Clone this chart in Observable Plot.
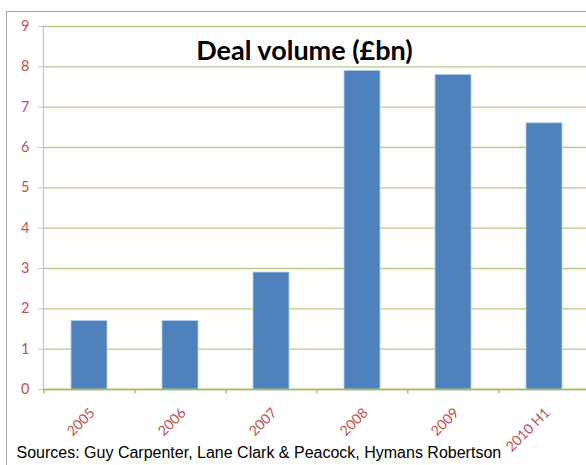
<!DOCTYPE html>
<html>
<head>
<meta charset="utf-8">
<script src="https://cdn.jsdelivr.net/npm/d3@7"></script>
<script src="https://cdn.jsdelivr.net/npm/@observablehq/plot@0.6"></script>
<style>
  html, body { margin: 0; padding: 0; background: #fff; overflow: hidden; }
  #wrap { position: relative; width: 586px; height: 465px; }
  #border { position: absolute; left: 6px; top: 11px; width: 640px; height: 520px; border: 1px solid #a6a6a6; box-sizing: border-box; pointer-events: none; }
  #chart { position: absolute; left: 0; top: 0; }
</style>
</head>
<body>
<div id="wrap"><div id="border"></div><div id="chart"></div></div>
<script>
const years = ["2005", "2006", "2007", "2008", "2009", "2010 H1"];
const volumes = [1.7, 1.7, 2.9, 7.9, 7.8, 6.6];
const yTicks = [0, 1, 2, 3, 4, 5, 6, 7, 8, 9];
const title = "Deal volume (£bn)";
const source = "Sources: Guy Carpenter, Lane Clark & Peacock, Hymans Robertson";

const data = years.map((y, i) => ({year: y, value: volumes[i]}));
const xRange = [43, 591];
const step = (xRange[1] - xRange[0]) / years.length;

const chart = Plot.plot({
  width: 586,
  height: 465,
  marginLeft: 43,
  marginRight: 0,
  marginTop: 26,
  marginBottom: 76,
  style: {fontFamily: "Lato, 'Open Sans', sans-serif", background: "transparent", overflow: "visible"},
  x: {domain: years, range: xRange, paddingInner: 0.6, paddingOuter: 0.3, label: null},
  y: {domain: [0, 9], label: null},
  marks: [
    Plot.ruleY(yTicks, {y: d => d, stroke: "#b5cd85", strokeWidth: 1.3}),
    Plot.barY(data, {x: "year", y: "value", fill: "#4f81bd", stroke: "#b9cde5", strokeWidth: 0.8}),
    Plot.ruleY([0], {stroke: "#9bbb59", strokeWidth: 1.3}),
    Plot.frame({anchor: "left", stroke: "#b9c9da", strokeWidth: 1.3}),
    Plot.ruleX(years, {x: d => d, y1: 0, y2: -0.11, dx: -step / 2, stroke: "#9bbb59", strokeWidth: 1.3}),
    Plot.axisY({ticks: yTicks, tickSize: 5, tickPadding: 9, stroke: "#b9c9da", fill: "#c0504d", fontSize: 14.5, tickFormat: d => String(d)}),
    Plot.axisX({tickSize: 0, tickPadding: 21, dx: 3, tickRotate: -45, fill: "#c0504d", fontSize: 14})
    ,
    Plot.text([title], {text: d => d, frameAnchor: "top-left", dx: 304 - 43, dy: 14, fontSize: 27, fontWeight: "bold", fill: "#000", textAnchor: "middle"}),
    Plot.text([source], {text: d => d, frameAnchor: "bottom-left", dx: 16 - 43, dy: 68.5, fontSize: 16, fill: "#000", textAnchor: "start", fontFamily: "'Liberation Sans', Arial, sans-serif"})
  ]
});
document.getElementById("chart").appendChild(chart);
</script>
</body>
</html>
